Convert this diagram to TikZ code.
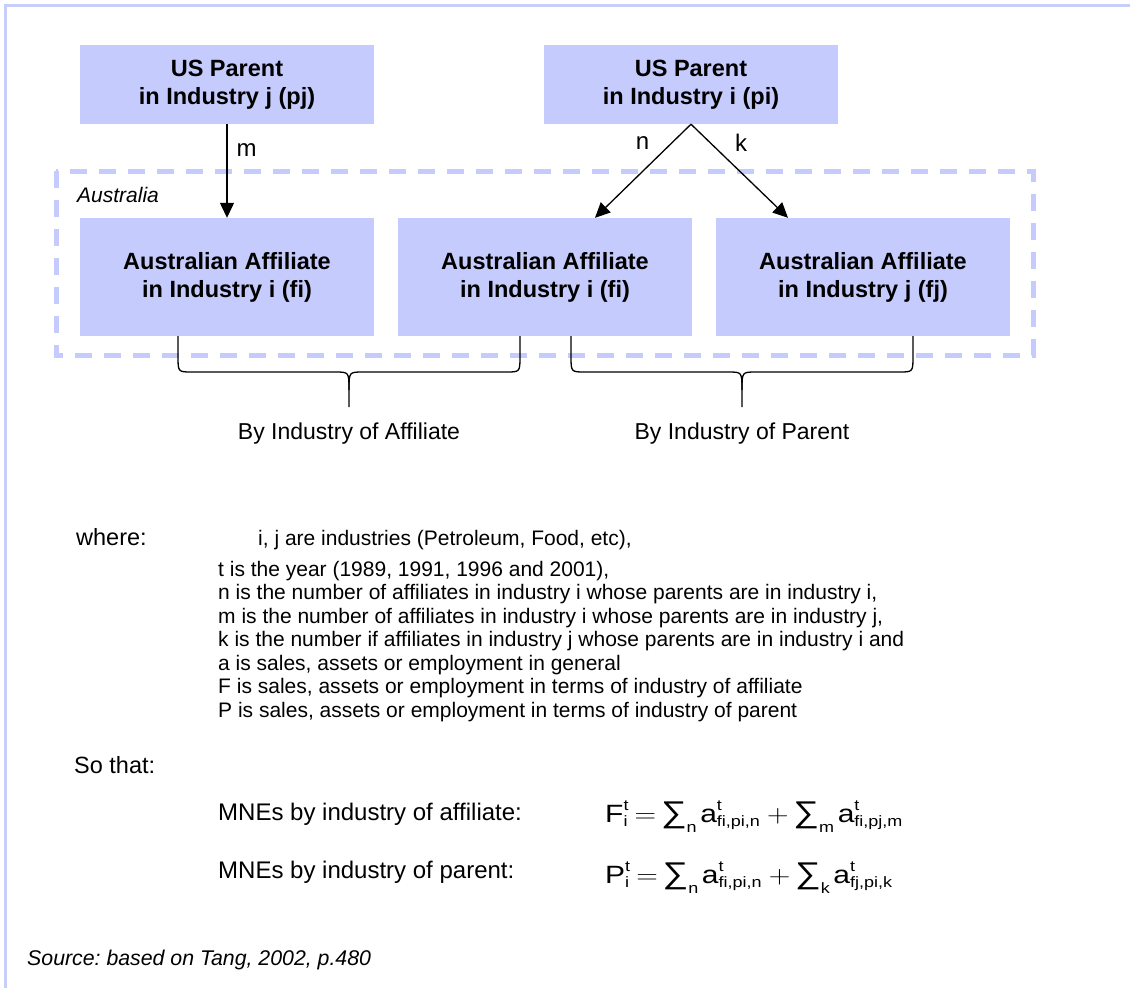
\documentclass[tikz,border=0pt]{standalone}
\usepackage{fontspec}
\usepackage{graphicx}
\setmainfont{Liberation Sans}
\usetikzlibrary{arrows.meta, positioning, calc}
\definecolor{boxblue}{RGB}{197,203,252}
\definecolor{lineblue}{RGB}{200,206,250}
\newcommand{\eqsmall}{\fontsize{15}{15}\selectfont}
\newcommand{\supsub}[2]{\makebox[0pt][l]{\raisebox{12pt}{\eqsmall #1}}\raisebox{-4pt}{\eqsmall #2}}
\newcommand{\sumsub}[1]{\hspace{4pt}{\fontsize{30}{30}\selectfont ∑}\raisebox{-10pt}{\eqsmall #1}\hspace{3pt}}

\begin{document}
\frenchspacing
\begin{tikzpicture}[
      x=1pt, y=-1pt,
      parent/.style={fill=boxblue, minimum width=294pt, minimum height=79pt, inner sep=0pt,
                     align=center, font=\bfseries\fontsize{23.5}{28}\selectfont},
      affil/.style={parent, minimum height=118pt},
      arr/.style={-{Triangle[length=15pt, width=14pt]}, line width=1.3pt},
      lbl/.style={inner sep=0pt, font=\fontsize{24}{24}\selectfont},
      brc/.style={line width=1.3pt},
      body/.style={anchor=base west, inner sep=0pt, font=\fontsize{21}{21}\selectfont},
      big/.style={anchor=base west, inner sep=0pt, font=\fontsize{23.5}{23.5}\selectfont},
      eq/.style={anchor=base west, inner sep=0pt, font=\fontsize{25}{25}\selectfont}
    ]
    \useasboundingbox (0,0) rectangle (1130,988);

    % --- Frame ---
    \draw[lineblue, line width=3pt] (1130,5) -- (5,5) -- (5,988);

    % --- Australia region ---
    \draw[boxblue, line width=5pt, dash pattern=on 17pt off 12pt] (56,171) rectangle (1033,355);
    \node[anchor=base west, inner sep=0pt, font=\itshape\fontsize{21}{21}\selectfont] (aus) at (77,202) {Australia};

    % --- US parents ---
    \node[parent] (pj) at (227,84.5) {US Parent\\in Industry j (pj)};
    \node[parent] (pi) at (691,84.5) {US Parent\\in Industry i (pi)};

    % --- Australian affiliates ---
    \node[affil] (af1) at (227,277) {Australian Affiliate\\in Industry i (fi)};
    \node[affil] (af2) at (545,277) {Australian Affiliate\\in Industry i (fi)};
    \node[affil] (af3) at (863,277) {Australian Affiliate\\in Industry j (fj)};

    % --- Ownership arrows ---
    \draw[arr] (pj.south) -- node[lbl, pos=.28, right=9pt] {m} (af1.north);
    \draw[arr] (pi.south) -- node[lbl, pos=.2, left=22pt] {n} ($(af2.north)+(50,0)$);
    \draw[arr] (pi.south) -- node[lbl, pos=.2, right=24pt] {k} ($(af3.north)+(-75,0)$);

    % --- Braces ---
    \draw[brc] (178,336) -- (178,356) .. controls (178,372) .. (192,372) -- (335,372)
      .. controls (349,372) .. (349,390) -- (349,407);
    \draw[brc] (520,336) -- (520,356) .. controls (520,372) .. (506,372) -- (363,372)
      .. controls (349,372) .. (349,390);
    \draw[brc] (571,336) -- (571,356) .. controls (571,372) .. (585,372) -- (728,372)
      .. controls (742,372) .. (742,390) -- (742,407);
    \draw[brc] (913,336) -- (913,356) .. controls (913,372) .. (899,372) -- (756,372)
      .. controls (742,372) .. (742,390);
    \node[big, anchor=base, font=\fontsize{23}{23}\selectfont] (byaff) at (349,439) {By Industry of Affiliate};
    \node[big, anchor=base, font=\fontsize{23}{23}\selectfont] (bypar) at (742,439) {By Industry of Parent};

    % --- Definitions ---
    \node[big]  (where) at (76,545)  {where:};
    \node[body] (defij) at (258,545) {i, j are industries (Petroleum, Food, etc),};
    \node[body] (deft)  at (218,576) {t is the year (1989, 1991, 1996 and 2001),};
    \node[body] (defn)  at (218,599.5) {n is the number of affiliates in industry i whose parents are in industry i,};
    \node[body] (defm)  at (218,623) {m is the number of affiliates in industry i whose parents are in industry j,};
    \node[body] (defk)  at (218,646.5) {k is the number if affiliates in industry j whose parents are in industry i and};
    \node[body] (defa)  at (218,670) {a is sales, assets or employment in general};
    \node[body] (defF)  at (218,693.5) {F is sales, assets or employment in terms of industry of affiliate};
    \node[body] (defP)  at (218,717) {P is sales, assets or employment in terms of industry of parent};

    % --- Formulas ---
    \node[big] (sothat) at (74,773) {So that:};
    \node[big, font=\fontsize{24}{24}\selectfont] (mneaff) at (218,820) {MNEs by industry of affiliate:};
    \node[big, font=\fontsize{24}{24}\selectfont] (mnepar) at (218,878) {MNEs by industry of parent:};
    \node[eq] (eqF) at (605,822)
      {\scalebox{1.2}[1]{F\supsub{t}{i}\hspace{6pt}$=$\sumsub{n}a\supsub{t}{fi,pi,n}\hspace{6pt}$+$\sumsub{m}a\supsub{t}{fi,pj,m}}};
    \node[eq] (eqP) at (605,883)
      {\scalebox{1.2}[1]{P\supsub{t}{i}\hspace{6pt}$=$\sumsub{n}a\supsub{t}{fi,pi,n}\hspace{6pt}$+$\sumsub{k}a\supsub{t}{fj,pi,k}}};

    % --- Source ---
    \node[anchor=base west, inner sep=0pt, font=\itshape\fontsize{21.3}{21.3}\selectfont] (src) at (27,965)
      {Source: based on Tang, 2002, p.480};
\end{tikzpicture}
\end{document}
